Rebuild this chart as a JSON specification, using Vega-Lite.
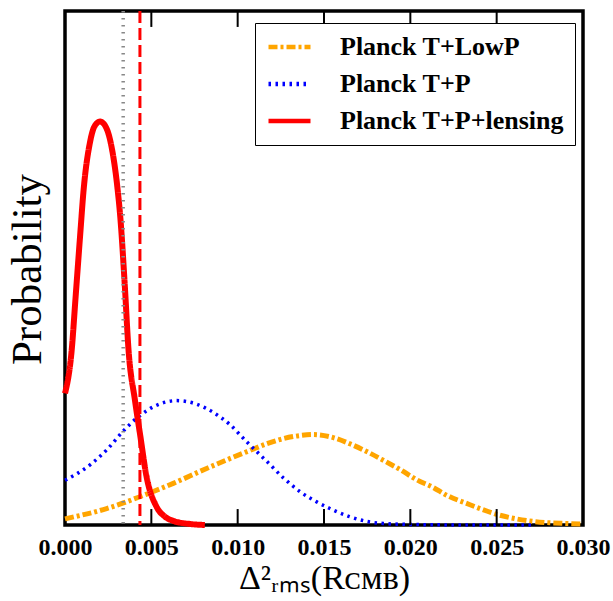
{
  "$schema": "https://vega.github.io/schema/vega-lite/v6.json",
  "width": 518,
  "height": 514,
  "autosize": "none",
  "padding": {"left": 65, "top": 11, "right": 30, "bottom": 76},
  "background": "white",
  "config": {
    "view": {"stroke": "black", "strokeWidth": 3.5},
    "font": "Liberation Serif"
  },
  "datasets": {
    "curves": [
      {"s": "Planck T+LowP", "x": 0.0, "y": 0.012},
      {"s": "Planck T+LowP", "x": 0.00241, "y": 0.032},
      {"s": "Planck T+LowP", "x": 0.00434, "y": 0.055},
      {"s": "Planck T+LowP", "x": 0.00627, "y": 0.081},
      {"s": "Planck T+LowP", "x": 0.0082, "y": 0.110},
      {"s": "Planck T+LowP", "x": 0.00975, "y": 0.132},
      {"s": "Planck T+LowP", "x": 0.01071, "y": 0.145},
      {"s": "Planck T+LowP", "x": 0.01168, "y": 0.158},
      {"s": "Planck T+LowP", "x": 0.01264, "y": 0.168},
      {"s": "Planck T+LowP", "x": 0.01361, "y": 0.174},
      {"s": "Planck T+LowP", "x": 0.01438, "y": 0.176},
      {"s": "Planck T+LowP", "x": 0.01554, "y": 0.170},
      {"s": "Planck T+LowP", "x": 0.0165, "y": 0.158},
      {"s": "Planck T+LowP", "x": 0.01747, "y": 0.143},
      {"s": "Planck T+LowP", "x": 0.01843, "y": 0.126},
      {"s": "Planck T+LowP", "x": 0.0194, "y": 0.108},
      {"s": "Planck T+LowP", "x": 0.02037, "y": 0.088},
      {"s": "Planck T+LowP", "x": 0.02133, "y": 0.073},
      {"s": "Planck T+LowP", "x": 0.0221, "y": 0.058},
      {"s": "Planck T+LowP", "x": 0.02326, "y": 0.042},
      {"s": "Planck T+LowP", "x": 0.02519, "y": 0.019},
      {"s": "Planck T+LowP", "x": 0.02712, "y": 0.007},
      {"s": "Planck T+LowP", "x": 0.02906, "y": 0.003},
      {"s": "Planck T+LowP", "x": 0.03, "y": 0.002},
      {"s": "Planck T+P", "x": 0.0, "y": 0.087},
      {"s": "Planck T+P", "x": 0.00145, "y": 0.117},
      {"s": "Planck T+P", "x": 0.00241, "y": 0.146},
      {"s": "Planck T+P", "x": 0.00338, "y": 0.183},
      {"s": "Planck T+P", "x": 0.00434, "y": 0.213},
      {"s": "Planck T+P", "x": 0.00531, "y": 0.233},
      {"s": "Planck T+P", "x": 0.00647, "y": 0.242},
      {"s": "Planck T+P", "x": 0.00763, "y": 0.235},
      {"s": "Planck T+P", "x": 0.00859, "y": 0.219},
      {"s": "Planck T+P", "x": 0.00956, "y": 0.195},
      {"s": "Planck T+P", "x": 0.01052, "y": 0.162},
      {"s": "Planck T+P", "x": 0.01168, "y": 0.124},
      {"s": "Planck T+P", "x": 0.01264, "y": 0.092},
      {"s": "Planck T+P", "x": 0.01361, "y": 0.065},
      {"s": "Planck T+P", "x": 0.01458, "y": 0.045},
      {"s": "Planck T+P", "x": 0.01554, "y": 0.029},
      {"s": "Planck T+P", "x": 0.0165, "y": 0.016},
      {"s": "Planck T+P", "x": 0.01747, "y": 0.007},
      {"s": "Planck T+P", "x": 0.01843, "y": 0.003},
      {"s": "Planck T+P", "x": 0.0201, "y": 0.001},
      {"s": "Planck T+P", "x": 0.0235, "y": 0.0},
      {"s": "Planck T+P", "x": 0.027, "y": 0.0},
      {"s": "Planck T+P+lensing", "x": 0.0, "y": 0.256},
      {"s": "Planck T+P+lensing", "x": 0.0004, "y": 0.345},
      {"s": "Planck T+P+lensing", "x": 0.0006, "y": 0.437},
      {"s": "Planck T+P+lensing", "x": 0.0009, "y": 0.574},
      {"s": "Planck T+P+lensing", "x": 0.00106, "y": 0.645},
      {"s": "Planck T+P+lensing", "x": 0.00145, "y": 0.745},
      {"s": "Planck T+P+lensing", "x": 0.0017, "y": 0.775},
      {"s": "Planck T+P+lensing", "x": 0.00203, "y": 0.785},
      {"s": "Planck T+P+lensing", "x": 0.0024, "y": 0.772},
      {"s": "Planck T+P+lensing", "x": 0.0027, "y": 0.735},
      {"s": "Planck T+P+lensing", "x": 0.00303, "y": 0.658},
      {"s": "Planck T+P+lensing", "x": 0.0032, "y": 0.600},
      {"s": "Planck T+P+lensing", "x": 0.00347, "y": 0.462},
      {"s": "Planck T+P+lensing", "x": 0.00367, "y": 0.345},
      {"s": "Planck T+P+lensing", "x": 0.00405, "y": 0.243},
      {"s": "Planck T+P+lensing", "x": 0.00434, "y": 0.178},
      {"s": "Planck T+P+lensing", "x": 0.00473, "y": 0.093},
      {"s": "Planck T+P+lensing", "x": 0.00531, "y": 0.035},
      {"s": "Planck T+P+lensing", "x": 0.0058, "y": 0.016},
      {"s": "Planck T+P+lensing", "x": 0.00627, "y": 0.008},
      {"s": "Planck T+P+lensing", "x": 0.00724, "y": 0.002},
      {"s": "Planck T+P+lensing", "x": 0.0081, "y": 0.0}
    ],
    "vlines": [
      {"kind": "gray", "v": 0.00337},
      {"kind": "red", "v": 0.00434}
    ],
    "tickrows": [
      {"t": 0.005}, {"t": 0.01}, {"t": 0.015}, {"t": 0.02}, {"t": 0.025}
    ]
  },
  "layer": [
    {
      "data": {"name": "curves"},
      "transform": [{"filter": "datum.s == 'Planck T+LowP'"}],
      "mark": {"type": "line", "interpolate": "monotone", "strokeCap": "butt", "strokeWidth": 5},
      "encoding": {
        "x": {
          "field": "x", "type": "quantitative",
          "scale": {"domain": [0, 0.03], "nice": false, "zero": false},
          "axis": {
            "orient": "bottom",
            "values": [0, 0.005, 0.01, 0.015, 0.02, 0.025, 0.03],
            "format": ".3f",
            "domain": false, "grid": false, "ticks": false,
            "labelPadding": 10,
            "labelFont": "Liberation Serif", "labelFontWeight": "bold", "labelFontSize": 24,
            "labelColor": "black", "labelFlush": false, "labelOverlap": false, "labelBound": false,
            "title": "Δ²ᵣₘₛ(Rᴄᴍʙ)",
            "titleFont": "Liberation Serif", "titleFontWeight": "normal", "titleFontSize": 34,
            "titleColor": "black", "titleBaseline": "alphabetic", "titleY": 63
          }
        },
        "y": {
          "field": "y", "type": "quantitative",
          "scale": {"domain": [0, 1], "nice": false, "zero": true},
          "axis": {
            "title": "Probability", "labels": false, "ticks": false, "domain": false, "grid": false,
            "titleFont": "Liberation Serif", "titleFontWeight": "normal", "titleFontSize": 43,
            "titleColor": "black", "titleX": -25, "titleY": 258, "titleAngle": -90,
            "titleAlign": "center", "titleBaseline": "alphabetic"
          }
        },
        "color": {"field": "s", "type": "nominal"},
        "strokeDash": {"field": "s", "type": "nominal"}
      }
    },
    {
      "data": {"name": "curves"},
      "transform": [{"filter": "datum.s == 'Planck T+P'"}],
      "mark": {"type": "line", "interpolate": "monotone", "strokeCap": "butt", "strokeWidth": 3.5},
      "encoding": {
        "x": {"field": "x", "type": "quantitative"},
        "y": {"field": "y", "type": "quantitative"},
        "color": {"field": "s", "type": "nominal"},
        "strokeDash": {"field": "s", "type": "nominal"}
      }
    },
    {
      "data": {"name": "curves"},
      "transform": [{"filter": "datum.s == 'Planck T+P+lensing'"}],
      "mark": {"type": "line", "interpolate": "monotone", "strokeCap": "butt", "strokeWidth": 6},
      "encoding": {
        "x": {"field": "x", "type": "quantitative"},
        "y": {"field": "y", "type": "quantitative"},
        "color": {
          "field": "s", "type": "nominal",
          "scale": {"domain": ["Planck T+LowP", "Planck T+P", "Planck T+P+lensing"], "range": ["#FFA500", "#0000FF", "#FF0000"]},
          "legend": {
            "title": null, "orient": "none", "legendX": 190, "legendY": 12,
            "symbolType": "stroke", "symbolSize": 1764, "symbolStrokeWidth": 4.5, "clipHeight": 26,
            "rowPadding": 11, "labelOffset": 27, "padding": 11,
            "labelFont": "Liberation Serif", "labelFontWeight": "bold", "labelFontSize": 26,
            "labelColor": "black", "labelLimit": 400,
            "strokeColor": "black", "fillColor": "white", "cornerRadius": 0
          }
        },
        "strokeDash": {
          "field": "s", "type": "nominal",
          "scale": {"domain": ["Planck T+LowP", "Planck T+P", "Planck T+P+lensing"], "range": [[9, 3, 3, 3], [2.5, 4.5], [1, 0]]},
          "legend": {
            "title": null, "orient": "none", "legendX": 190, "legendY": 12,
            "symbolType": "stroke", "symbolSize": 1764, "symbolStrokeWidth": 4.5, "clipHeight": 26,
            "rowPadding": 11, "labelOffset": 27, "padding": 11,
            "labelFont": "Liberation Serif", "labelFontWeight": "bold", "labelFontSize": 26,
            "labelColor": "black", "labelLimit": 400,
            "strokeColor": "black", "fillColor": "white", "cornerRadius": 0
          }
        }
      }
    },
    {
      "data": {"name": "vlines"},
      "transform": [{"filter": "datum.kind == 'gray'"}],
      "mark": {"type": "rule", "color": "#888888", "strokeWidth": 3.5, "strokeDash": [1.5, 5.5], "strokeCap": "butt"},
      "encoding": {
        "x": {"field": "v", "type": "quantitative"}
      }
    },
    {
      "data": {"name": "vlines"},
      "transform": [{"filter": "datum.kind == 'red'"}],
      "mark": {"type": "rule", "color": "#FF0000", "strokeWidth": 3, "strokeDash": [12, 5], "strokeCap": "butt"},
      "encoding": {
        "x": {"field": "v", "type": "quantitative"}
      }
    },
    {
      "data": {"name": "tickrows"},
      "mark": {"type": "rule", "stroke": "#000000", "strokeWidth": 2, "opacity": 1},
      "encoding": {
        "x": {"field": "t", "type": "quantitative"},
        "y": {"datum": 0, "type": "quantitative"},
        "y2": {"datum": 0.031}
      }
    },
    {
      "data": {"name": "tickrows"},
      "mark": {"type": "rule", "stroke": "#000000", "strokeWidth": 2, "opacity": 1},
      "encoding": {
        "x": {"field": "t", "type": "quantitative"},
        "y": {"datum": 0.969, "type": "quantitative"},
        "y2": {"datum": 1}
      }
    }
  ]
}
